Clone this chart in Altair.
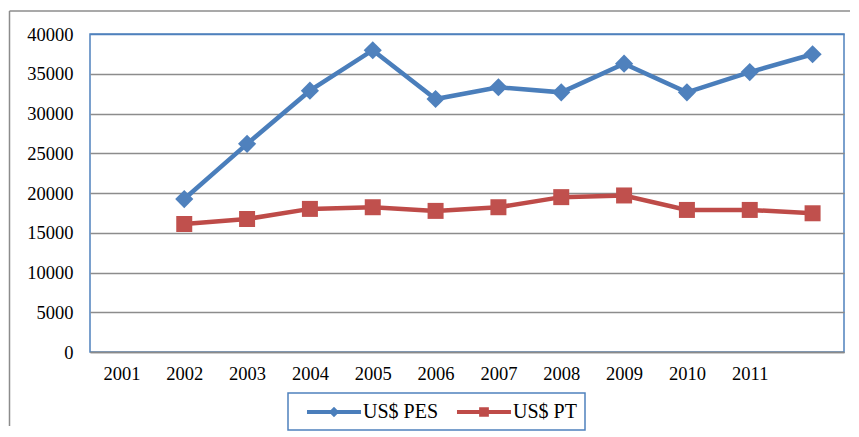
import altair as alt
import pandas as pd

# ---- data ----
years = ["2001", "2002", "2003", "2004", "2005", "2006", "2007", "2008", "2009", "2010", "2011", "2012"]
point_years = ["2002", "2003", "2004", "2005", "2006", "2007", "2008", "2009", "2010", "2011", "2012"]
pes = [19240, 26180, 32870, 37960, 31820, 33300, 32660, 36270, 32660, 35210, 37450]
pt = [16100, 16730, 18000, 18210, 17750, 18210, 19480, 19690, 17870, 17870, 17450]
series_names = ["US$ PES", "US$ PT"]
y_ticks = [0, 5000, 10000, 15000, 20000, 25000, 30000, 35000, 40000]

line_colors = ["#4A7EBB", "#BE4B48"]
fill_colors = ["#4F81BD", "#C0504D"]
marker_shapes = ["diamond", "square"]
marker_sizes = [330, 256]
legend_paths = [
    "M-2.5,-0.19L2.5,-0.19L2.5,0.19L-2.5,0.19Z M0,-0.48L0.48,0L0,0.48L-0.48,0Z",
    "M-2.5,-0.19L2.5,-0.19L2.5,0.19L-2.5,0.19Z M-0.45,-0.45L0.45,-0.45L0.45,0.45L-0.45,0.45Z",
]

rows = []
for yr, v in zip(point_years, pes):
    rows.append({"year": yr, "value": v, "series": series_names[0], "marker": series_names[0]})
for yr, v in zip(point_years, pt):
    rows.append({"year": yr, "value": v, "series": series_names[1], "marker": series_names[1]})
df = pd.DataFrame(rows)

FONT = "Liberation Serif, Times New Roman, serif"

x_enc = alt.X(
    "year:O",
    scale=alt.Scale(domain=years, padding=0.5),
    axis=alt.Axis(
        title=None, labelAngle=0, ticks=False, grid=False,
        labelExpr="datum.value == '2012' ? '' : datum.value",
        domainColor="#8A8A8A", domainWidth=1.5,
        labelFont=FONT, labelFontSize=18.5, labelColor="#000000", labelPadding=12,
    ),
)
y_enc = alt.Y(
    "value:Q",
    scale=alt.Scale(domain=[0, 40000], nice=False),
    axis=alt.Axis(
        title=None, values=y_ticks, ticks=False, domain=False, format="d",
        gridColor={"condition": {"test": "datum.value >= 40000", "value": "#4F81BD"}, "value": "#8C8C8C"},
        gridWidth=1.5,
        labelFont=FONT, labelFontSize=18.5, labelColor="#000000", labelPadding=17,
    ),
)

base = alt.Chart(df).encode(x=x_enc, y=y_enc)

lines = base.mark_line(strokeWidth=4.5).encode(
    stroke=alt.Stroke("series:N", scale=alt.Scale(domain=series_names, range=line_colors), legend=None)
)

points = base.mark_point(filled=True, opacity=1).encode(
    fill=alt.Fill("series:N", scale=alt.Scale(domain=series_names, range=fill_colors), legend=None),
    shape=alt.Shape("marker:N", scale=alt.Scale(domain=series_names, range=marker_shapes), legend=None),
    size=alt.Size("marker:O", scale=alt.Scale(domain=series_names, range=marker_sizes), legend=None),
)

leg = alt.Legend(
    title=None, orient="none", legendX=198, legendY=359, direction="horizontal",
    strokeColor="#4F81BD", padding=8,
    symbolSize=467, symbolStrokeWidth=0, symbolOffset=27, labelOffset=18,
    columnPadding=7,
    labelFont=FONT, labelFontSize=20, labelColor="#000000",
)
legend_layer = alt.Chart(df).transform_filter("false").mark_point(filled=True, opacity=1).encode(
    color=alt.Color("series:N", scale=alt.Scale(domain=series_names, range=line_colors), legend=leg),
    shape=alt.Shape("series:N", scale=alt.Scale(domain=series_names, range=legend_paths), legend=leg),
)

frame_df = pd.DataFrame({"k": [0]})
frame_left = alt.Chart(frame_df).mark_rule(color="#8C8C8C", strokeWidth=1.5).encode(
    x=alt.value(-80.5), y=alt.value(-23), y2=alt.value(392)
)
frame_top = alt.Chart(frame_df).mark_rule(color="#8C8C8C", strokeWidth=1.5).encode(
    x=alt.value(-80.5), x2=alt.value(760), y=alt.value(-23)
)

chart = alt.layer(frame_left, frame_top, lines, points, legend_layer).resolve_scale(
    shape="independent", color="independent"
).resolve_legend(shape="independent", color="independent").properties(
    width=754, height=318,
    padding={"left": 0, "top": 2, "right": 0, "bottom": 0},
).configure_view(stroke="#4F81BD", strokeWidth=1.5).configure_legend(
    strokeWidth=1.5, labelFont=FONT, labelFontSize=20, labelColor="#000000"
).configure_axis(labelFont=FONT)

chart.save("out.html", embed_options={"renderer": "svg", "actions": False})
